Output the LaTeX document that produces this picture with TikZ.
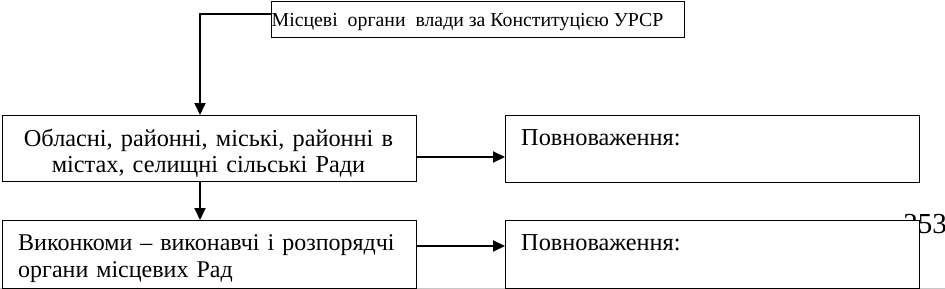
\documentclass[tikz,border=0pt]{standalone}
\usepackage{fontspec}
\setmainfont{Liberation Serif}
\usetikzlibrary{arrows.meta}
\begin{document}
\begin{tikzpicture}[x=1pt,y=-1pt,
  boxshape/.style={draw=black,line width=1.3pt,fill=white,rectangle,inner sep=0pt},
  bodytext/.style={font=\fontsize{24.3}{25.5}\selectfont,inner sep=0pt},
  conn/.style={line width=2pt,-{Triangle[length=12pt,width=11pt]}}]
\useasboundingbox (0,0) rectangle (945,289);
% page number partly hidden
\node[font=\fontsize{29}{30}\selectfont,inner sep=0pt,anchor=base east] (pg) at (947,233) {253};
\draw[gray!45,line width=1pt] (0,288.6) -- (945,288.6);
% top box
\node[boxshape,minimum width=413pt,minimum height=36pt,anchor=north west] (top) at (271,0.7) {};
\node[font=\fontsize{19.8}{21}\selectfont,inner sep=0pt,anchor=base west] (toptext) at (271.5,27) {Місцеві\ \ органи\ \ влади за Конституцією УРСР};
% left boxes
\node[boxshape,minimum width=414pt,minimum height=66pt,anchor=north west] (rada) at (1.5,115) {};
\node[bodytext,anchor=base,text width=410pt,align=center] (radatext) at (208.5,146.5) {Обласні, районні, міські, районні в\\ містах, селищні сільські Ради};
\node[boxshape,minimum width=414pt,minimum height=68pt,anchor=north west] (vyk) at (1.5,220) {};
\node[font=\fontsize{24}{27}\selectfont,inner sep=0pt,anchor=base west,text width=400pt,align=left] (vyktext) at (18,250) {Виконкоми – виконавчі і розпорядчі\\ органи місцевих Рад};
% right boxes
\node[boxshape,minimum width=414pt,minimum height=67pt,anchor=north west] (pow1) at (505,114.5) {};
\node[bodytext,anchor=base west] (pow1text) at (521,145) {Повноваження:};
\node[boxshape,minimum width=414pt,minimum height=68pt,anchor=north west] (pow2) at (505,220) {};
\node[bodytext,anchor=base west] (pow2text) at (521,250) {Повноваження:};
% connectors
\coordinate (bend) at (200,14);
\draw[line width=2pt,-{Triangle[length=12pt,width=11pt]}] (top.west |- bend) -- (bend) -- (bend |- rada.north);
\draw[conn] (rada.east |- 0,157) -- (pow1.west |- 0,157);
\draw[conn] (vyk.east |- 0,246) -- (pow2.west |- 0,246);
\draw[conn] (rada.south -| bend) -- (vyk.north -| bend);
\end{tikzpicture}
\end{document}
